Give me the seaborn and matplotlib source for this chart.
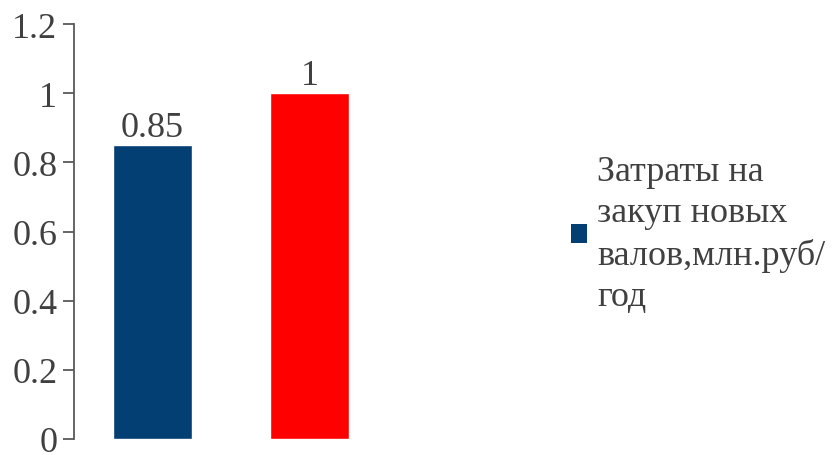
import matplotlib
matplotlib.use("Agg")
import matplotlib.pyplot as plt
import seaborn as sns
import pandas as pd
from matplotlib.patches import Patch

categories = ["A", "B"]
values = [0.85, 1.0]
value_labels = ["0.85", "1"]
colors = ["#033F73", "#FF0000"]
legend_label = "Затраты на\nзакуп новых\nвалов,млн.руб/\nгод"
yticks = [0, 0.2, 0.4, 0.6, 0.8, 1.0, 1.2]
ytick_labels = ["0", "0.2", "0.4", "0.6", "0.8", "1", "1.2"]

sns.set_style("white")
plt.rcParams["font.family"] = ["Liberation Serif", "DejaVu Serif"]

df = pd.DataFrame({"cat": categories, "val": values})

fig = plt.figure(figsize=(8.35, 4.56), dpi=100)
ax = fig.add_axes([74 / 835, 16 / 456, (388 - 74) / 835, (440 - 25) / 456])

sns.barplot(data=df, x="cat", y="val", hue="cat", palette=colors,
            width=0.5, legend=False, ax=ax, saturation=1)

for cont, lab in zip(ax.containers, value_labels):
    ax.bar_label(cont, labels=[lab], fontsize=26, color="#404040", padding=1)

ax.set_xlim(-0.5, 1.5)
ax.set_ylim(0, 1.2)
ax.set_yticks(yticks)
ax.set_yticklabels(ytick_labels, fontsize=26, color="#404040")
ax.set_xticks([])
ax.set_xlabel("")
ax.set_ylabel("")
for s in ["top", "right", "bottom"]:
    ax.spines[s].set_visible(False)
ax.spines["left"].set_color("#595959")
ax.spines["left"].set_linewidth(1.3)
ax.tick_params(axis="y", direction="out", length=8, width=1.3, color="#595959", pad=4, left=True)

handle = Patch(facecolor=colors[0], edgecolor="none")
leg = fig.legend([handle], [legend_label], loc="center left",
                 bbox_to_anchor=(571 / 835, 1 - 235 / 456), frameon=False,
                 fontsize=26, handlelength=0.44, handleheight=0.44,
                 handletextpad=0.28, borderpad=0, borderaxespad=0,
                 labelcolor="#404040")
for t in leg.get_texts():
    t.set_linespacing(1.32)

fig.savefig("out.png", dpi=100)
